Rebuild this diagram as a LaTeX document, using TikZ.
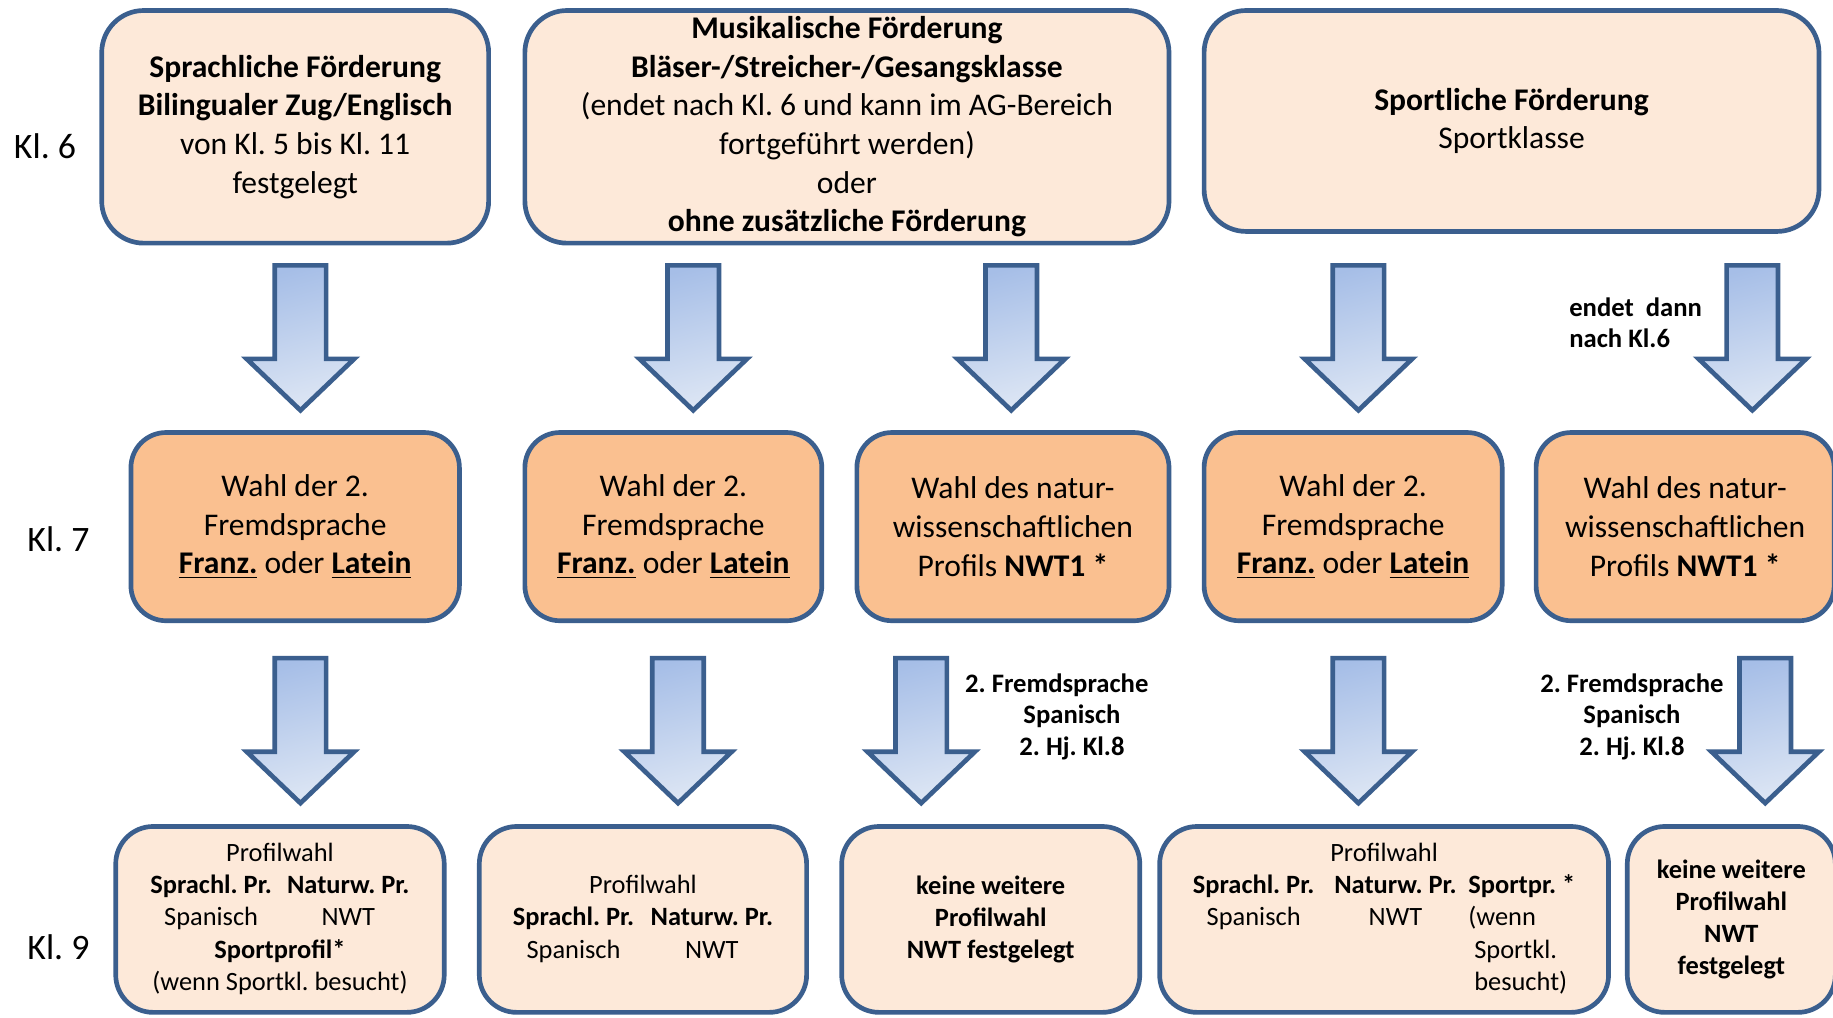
\documentclass[tikz,border=0pt]{standalone}
\usepackage{fontspec}
\setmainfont{Carlito}
\frenchspacing
\definecolor{bordc}{HTML}{3B5F8E}
\definecolor{peach}{HTML}{FDE9D9}
\definecolor{orng}{HTML}{FAC090}
\definecolor{arrtop}{HTML}{A6BEE7}
\definecolor{arrbot}{HTML}{DDE6F4}
\tikzset{
  box/.style={draw=bordc, line width=2pt, align=center, inner sep=0pt, text=black},
  topbox/.style={box, fill=peach, rounded corners=18pt, font=\fontsize{13.5}{16.5}\selectfont},
  midbox/.style={box, fill=orng, rounded corners=15pt, minimum height=80.5pt, font=\fontsize{13.5}{16.5}\selectfont},
  botbox/.style={box, fill=peach, rounded corners=16pt, minimum height=79.5pt, font=\fontsize{11.3}{13.75}\selectfont},
  lbl/.style={font=\bfseries\fontsize{11.4}{13.5}\selectfont, align=center, inner sep=0pt},
  kl/.style={font=\fontsize{15.3}{18}\selectfont, inner sep=0pt},
  blockarr/.pic={\draw[draw=bordc, line width=2pt, line join=miter, top color=arrtop, bottom color=arrbot, shading angle=15]
      (-22,0) -- (22,0) -- (22,80) -- (46,80) -- (0,124) -- (-46,80) -- (-22,80) -- cycle;}
}
\newcommand{\ul}[1]{\underline{\textbf{#1}}}
\begin{document}
\begin{tikzpicture}[x=0.5pt,y=-0.5pt]
\useasboundingbox (0,0) rectangle (1568,870);
\clip (0,0) rectangle (1568,870);
\fill[white] (0,0) rectangle (1568,870);
% row labels
\node[kl] (k6) at (38.5,125) {Kl. 6};
\node[kl] (k7) at (50,461) {Kl. 7};
\node[kl] (k9) at (50,810) {Kl. 9};
% top row
\node[topbox, minimum width=165.5pt, minimum height=99.5pt] (A) at (252.5,108.5)
  {\textbf{Sprachliche Förderung}\\\textbf{Bilingualer Zug/Englisch}\\von Kl. 5 bis Kl. 11\\festgelegt};
\node[topbox, minimum width=275.5pt, minimum height=99.5pt] (B) at (724.5,108.5)
  {\textbf{Musikalische Förderung}\\\textbf{Bläser-/Streicher-/Gesangsklasse}\\(endet nach Kl. 6 und kann im AG-Bereich\\fortgeführt werden)\\oder\\\textbf{ohne zusätzliche Förderung}};
\node[topbox, minimum width=263pt, minimum height=94.5pt] (C) at (1293,103.5)
  {\textbf{Sportliche Förderung}\\Sportklasse};
% arrows row 1
\pic at (257,227) {blockarr};
\pic at (593,227) {blockarr};
\pic at (865,227) {blockarr};
\pic at (1162,227) {blockarr};
\pic at (1499,227) {blockarr};
\node[lbl, align=left, anchor=west] (endet) at (1342,276) {endet\ \ dann\\nach Kl.6};
% middle row
\node[midbox, minimum width=140.5pt] (M1) at (252.5,450.5) {Wahl der 2.\\Fremdsprache\\\ul{Franz.} oder \ul{Latein}};
\node[midbox, minimum width=127pt] (M2) at (576,450.5) {Wahl der 2.\\Fremdsprache\\\ul{Franz.} oder \ul{Latein}};
\node[midbox, minimum width=133.5pt] (M3) at (866.5,450.5) {Wahl des natur-\\wissenschaftlichen\\Profils \textbf{NWT1 *}};
\node[midbox, minimum width=127.5pt] (M4) at (1157.5,450.5) {Wahl der 2.\\Fremdsprache\\\ul{Franz.} oder \ul{Latein}};
\node[midbox, minimum width=127.5pt] (M5) at (1441.5,450.5) {Wahl des natur-\\wissenschaftlichen\\Profils \textbf{NWT1 *}};
% arrows row 2
\pic at (257,563) {blockarr};
\pic at (580,563) {blockarr};
\pic at (788,563) {blockarr};
\pic at (1162,563) {blockarr};
\pic at (1510,563) {blockarr};
\node[lbl] (fs1) at (917,613) {2. Fremdsprache\hspace*{13pt}\\Spanisch\\2. Hj. Kl.8};
\node[lbl] (fs2) at (1396,613) {2. Fremdsprache\\Spanisch\\2. Hj. Kl.8};
% bottom row
\node[botbox, minimum width=140.5pt] (B1) at (239.5,786.5)
  {\begin{tabular}{@{}c@{\hspace{6.5pt}}c@{}}
   \multicolumn{2}{@{}c@{}}{Profilwahl}\\
   \textbf{Sprachl. Pr.} & \textbf{Naturw. Pr.}\\
   Spanisch & NWT\\
   \multicolumn{2}{@{}c@{}}{\textbf{Sportprofil*}}\\
   \multicolumn{2}{@{}c@{}}{(wenn Sportkl. besucht)}
   \end{tabular}};
\node[botbox, minimum width=140pt] (B2) at (550,786.5)
  {\begin{tabular}{@{}c@{\hspace{7pt}}c@{}}
   \multicolumn{2}{@{}c@{}}{Profilwahl}\\
   \textbf{Sprachl. Pr.} & \textbf{Naturw. Pr.}\\
   Spanisch & NWT
   \end{tabular}};
\node[botbox, minimum width=127.5pt, font=\bfseries\fontsize{11.3}{13.75}\selectfont] (B3) at (847.5,786.5)
  {keine weitere\\Profilwahl\\NWT festgelegt};
\node[botbox, minimum width=192pt] (B4) at (1184,786.5)
  {\begin{tabular}{@{}c@{\hspace{8.5pt}}c@{\hspace{5pt}}l@{}}
   \multicolumn{3}{@{}c@{}}{Profilwahl}\\
   \textbf{Sprachl. Pr.} & \textbf{Naturw. Pr.} & \textbf{Sportpr. *}\\
   Spanisch & NWT & (wenn\\
   & & \hspace{2.5pt}Sportkl.\\
   & & \hspace{2.5pt}besucht)
   \end{tabular}};
\node[botbox, minimum width=89pt, font=\bfseries\fontsize{11.3}{13.75}\selectfont] (B5) at (1481,786.5)
  {keine weitere\\Profilwahl\\NWT\\festgelegt};
\end{tikzpicture}
\end{document}
